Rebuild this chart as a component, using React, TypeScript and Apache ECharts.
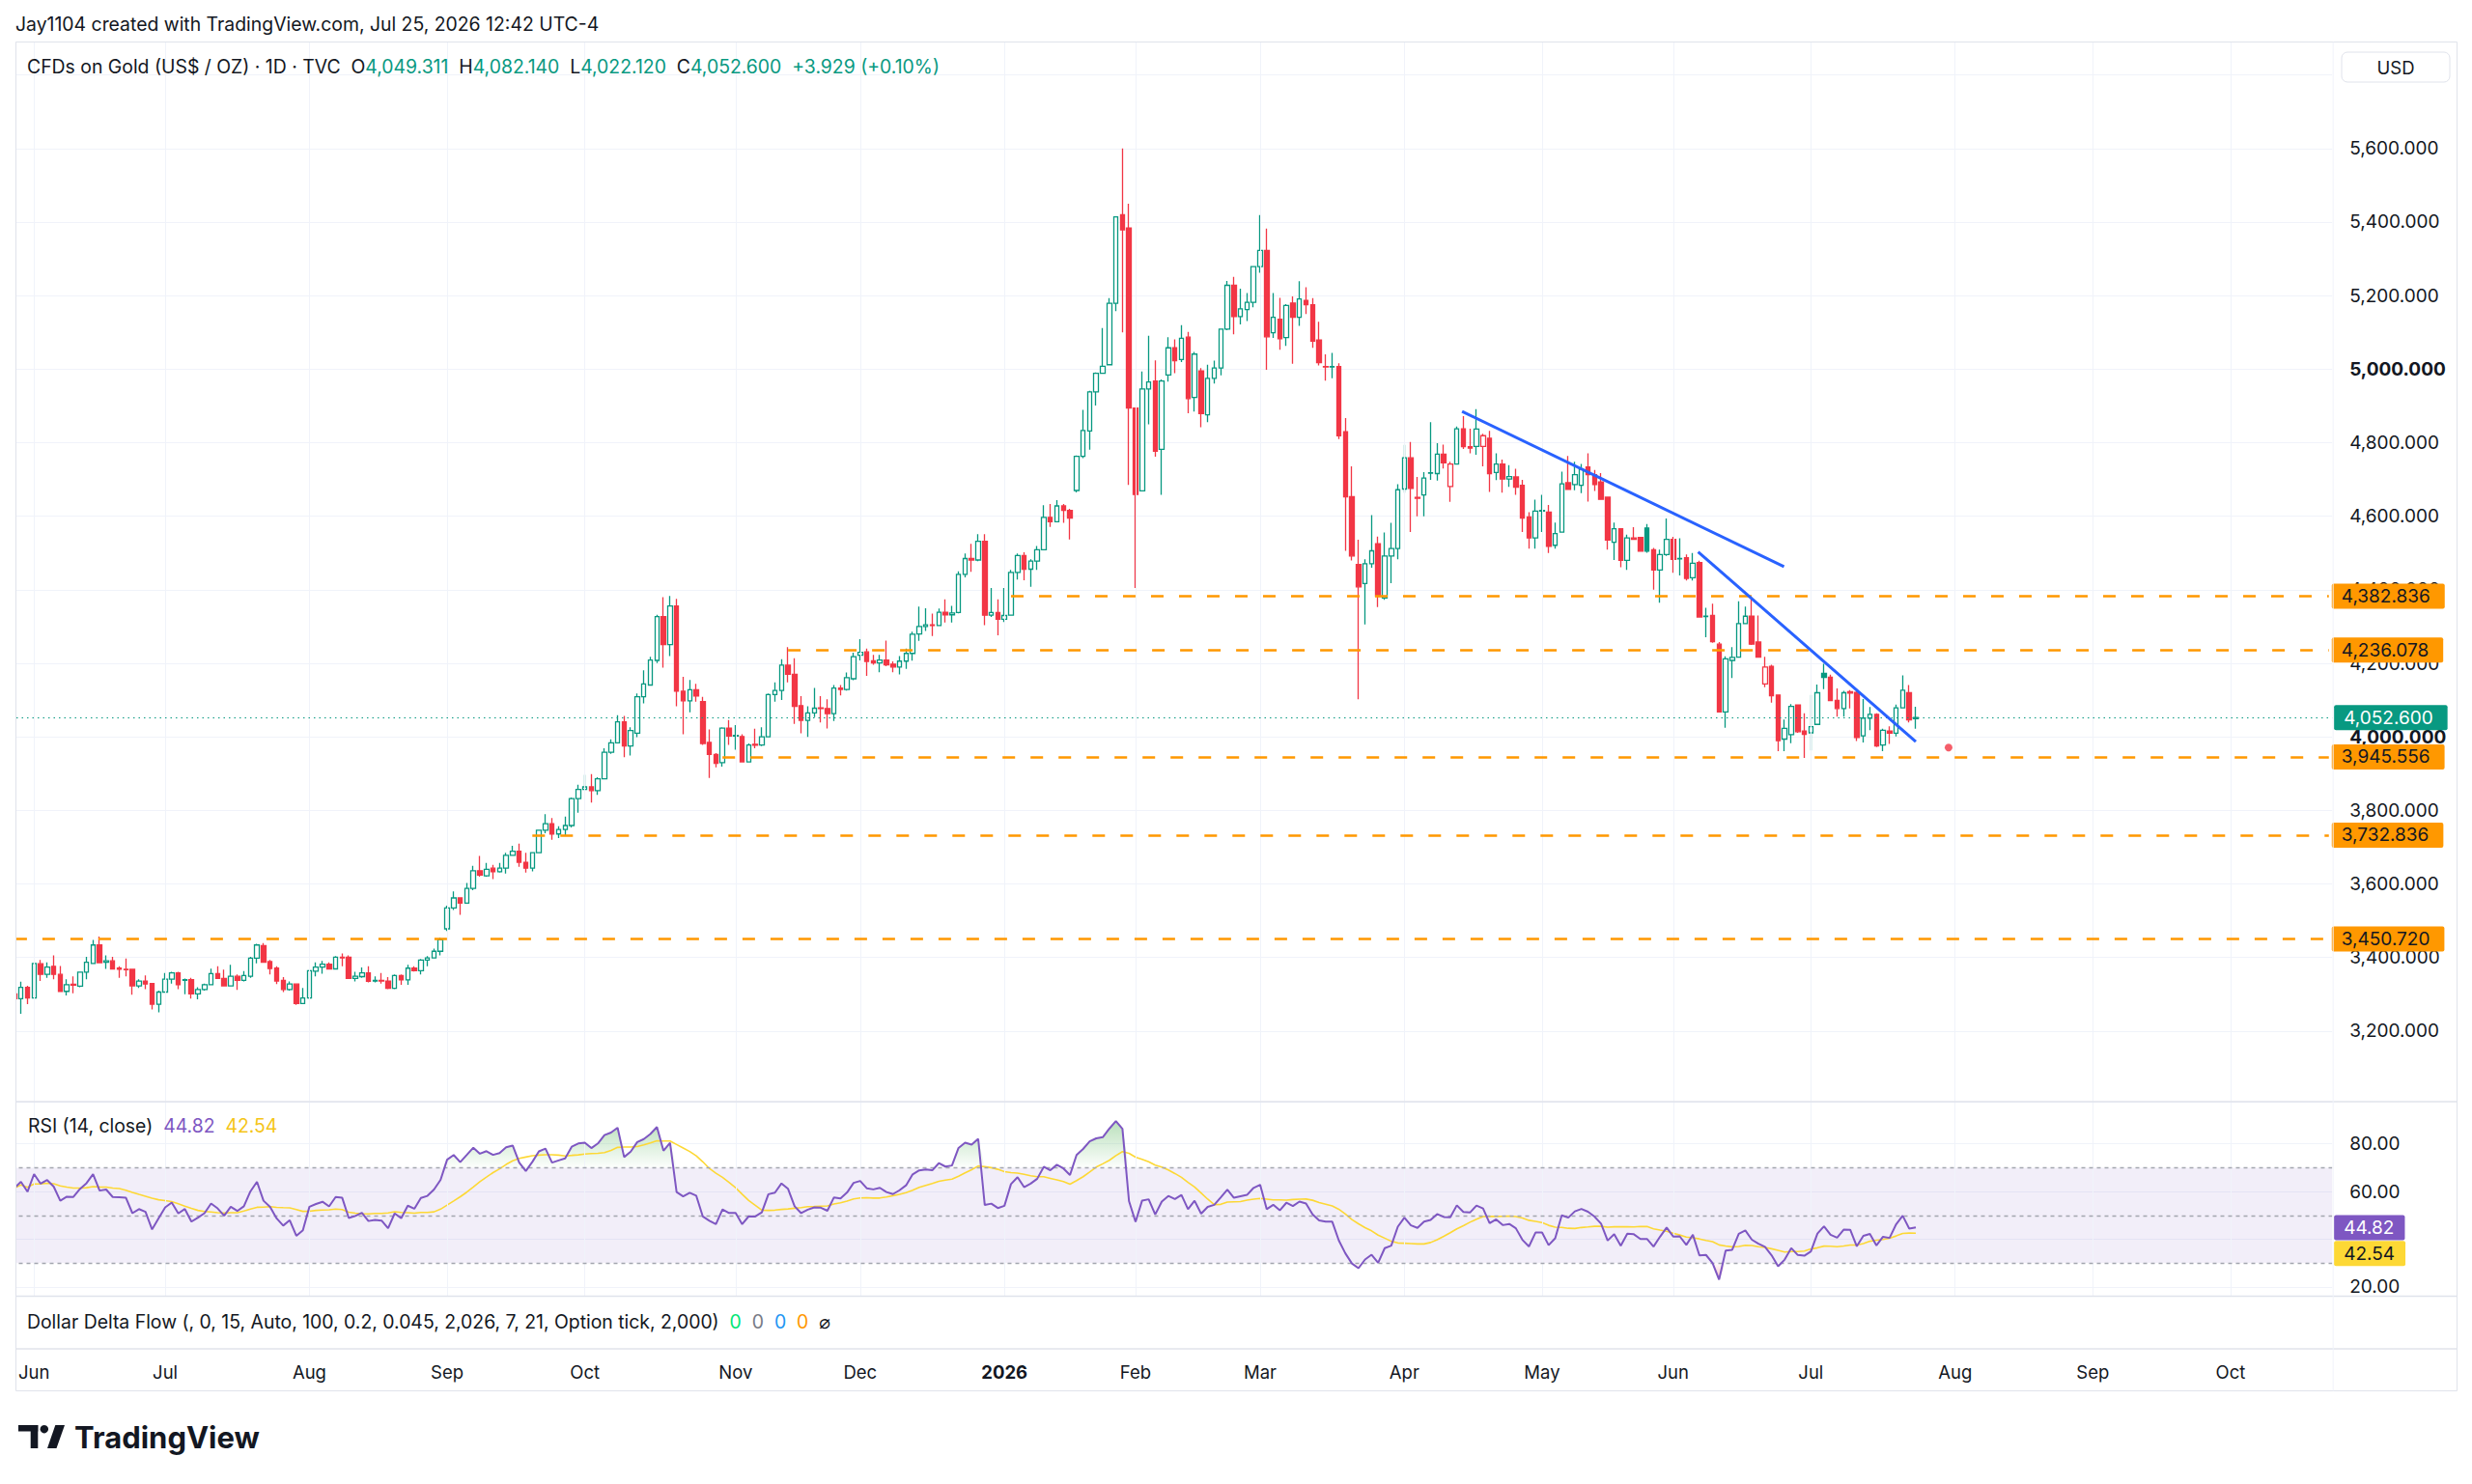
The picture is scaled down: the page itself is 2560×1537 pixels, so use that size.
import React, { useEffect, useRef } from 'react';
import * as echarts from 'echarts';

// ---------- DATA ----------
const FIRST_DAY = '2025-05-28';
const TOTAL_SLOTS = 354;
const HOLIDAYS = ['2025-06-19', '2025-07-04', '2025-09-01', '2025-11-27', '2025-12-25', '2026-01-01', '2026-01-19', '2026-02-16', '2026-04-03', '2026-05-25', '2026-06-19', '2026-07-03', '2026-09-07'];
const MONTHS = ['Jan', 'Feb', 'Mar', 'Apr', 'May', 'Jun', 'Jul', 'Aug', 'Sep', 'Oct', 'Nov', 'Dec'];

const OPEN = [
  3301, 3288, 3319, 3290, 3383, 3354, 3376, 3354, 3308, 3327,
  3322, 3360, 3384, 3434, 3387, 3391, 3371, 3368, 3368, 3323,
  3336, 3329, 3273, 3306, 3341, 3358, 3338, 3340, 3301, 3313,
  3326, 3356, 3343, 3323, 3349, 3338, 3349, 3398, 3432, 3389,
  3371, 3338, 3313, 3328, 3275, 3290, 3363, 3374, 3382, 3369,
  3401, 3401, 3343, 3348, 3358, 3336, 3338, 3336, 3316, 3351,
  3339, 3371, 3364, 3393, 3399, 3417, 3478, 3535, 3562, 3548,
  3588, 3636, 3622, 3643, 3633, 3643, 3678, 3689, 3659, 3643,
  3685, 3746, 3764, 3736, 3748, 3759, 3832, 3857, 3864, 3854,
  3886, 3958, 3984, 4041, 3975, 4010, 4109, 4141, 4208, 4327,
  4251, 4356, 4124, 4098, 4128, 4096, 3985, 3952, 3930, 4024,
  4004, 4001, 3932, 3980, 3978, 4000, 4115, 4126, 4195, 4170,
  4085, 4045, 4065, 4079, 4077, 4063, 4133, 4129, 4158, 4222,
  4231, 4207, 4201, 4209, 4198, 4190, 4206, 4227, 4280, 4300,
  4305, 4303, 4339, 4332, 4338, 4442, 4485, 4481, 4532, 4331,
  4338, 4320, 4331, 4447, 4493, 4456, 4478, 4509, 4597, 4585,
  4628, 4616, 4670, 4763, 4832, 4938, 4989, 5012, 5179, 5420,
  5384, 4894, 4669, 4946, 4968, 4782, 4984, 5058, 5026, 5087,
  4923, 4995, 4876, 4975, 5003, 5109, 5228, 5143, 5162, 5182,
  5279, 5323, 5099, 5136, 5086, 5180, 5141, 5187, 5175, 5079,
  5007, 5007, 5007, 4830, 4653, 4469, 4417, 4471, 4525, 4378,
  4492, 4512, 4674, 4759, 4651, 4658, 4717, 4716, 4769, 4681,
  4742, 4838, 4789, 4790, 4790, 4812, 4719, 4742, 4701, 4707,
  4684, 4598, 4541, 4616, 4611, 4521, 4557, 4691, 4686, 4684,
  4734, 4713, 4693, 4652, 4529, 4566, 4480, 4541, 4542, 4568,
  4509, 4454, 4496, 4537, 4485, 4487, 4433, 4474, 4327, 4330,
  4252, 4068, 4208, 4217, 4308, 4328, 4258, 4144, 4192, 4114,
  3994, 4006, 4087, 4016, 4011, 4034, 4173, 4162, 4099, 4077,
  4123, 4121, 4003, 4051, 4061, 3978, 4016, 4010, 4079, 4120,
  4049.311,
];
const HIGH = [
  3306, 3334, 3323, 3385, 3393, 3387, 3406, 3377, 3341, 3349,
  3362, 3402, 3448, 3457, 3406, 3402, 3376, 3397, 3369, 3341,
  3351, 3329, 3310, 3358, 3361, 3361, 3343, 3345, 3319, 3329,
  3370, 3376, 3367, 3380, 3354, 3363, 3402, 3437, 3439, 3393,
  3376, 3347, 3335, 3329, 3317, 3367, 3387, 3391, 3387, 3404,
  3411, 3406, 3361, 3373, 3376, 3349, 3358, 3347, 3354, 3354,
  3380, 3376, 3396, 3404, 3424, 3454, 3541, 3580, 3562, 3603,
  3649, 3676, 3657, 3652, 3657, 3685, 3704, 3710, 3685, 3687,
  3748, 3790, 3779, 3757, 3783, 3835, 3870, 3897, 3899, 3890,
  3969, 3993, 4059, 4057, 4026, 4118, 4181, 4218, 4332, 4380,
  4383, 4375, 4163, 4155, 4144, 4109, 4020, 3956, 4026, 4046,
  4032, 4007, 3982, 4022, 4026, 4118, 4148, 4211, 4244, 4214,
  4111, 4083, 4133, 4111, 4102, 4141, 4141, 4175, 4229, 4266,
  4240, 4223, 4223, 4262, 4205, 4220, 4240, 4286, 4354, 4350,
  4335, 4349, 4374, 4356, 4450, 4499, 4525, 4551, 4551, 4405,
  4374, 4405, 4454, 4499, 4502, 4483, 4519, 4630, 4633, 4644,
  4633, 4620, 4765, 4889, 4941, 4991, 5112, 5193, 5414, 5600,
  5450, 4894, 4994, 5091, 5024, 4972, 5087, 5081, 5120, 5101,
  5047, 5003, 5012, 5023, 5109, 5240, 5251, 5219, 5207, 5279,
  5419, 5382, 5207, 5194, 5177, 5198, 5239, 5223, 5193, 5129,
  5040, 5044, 5016, 4867, 4736, 4536, 4483, 4603, 4545, 4556,
  4582, 4687, 4794, 4802, 4707, 4720, 4856, 4799, 4795, 4748,
  4844, 4872, 4838, 4891, 4824, 4832, 4771, 4754, 4739, 4729,
  4699, 4611, 4645, 4658, 4631, 4583, 4721, 4764, 4748, 4742,
  4771, 4726, 4717, 4652, 4583, 4566, 4550, 4570, 4542, 4579,
  4514, 4509, 4594, 4544, 4540, 4496, 4500, 4479, 4351, 4362,
  4258, 4219, 4244, 4369, 4354, 4380, 4330, 4218, 4196, 4114,
  4047, 4089, 4088, 4064, 4114, 4142, 4199, 4169, 4132, 4125,
  4127, 4125, 4103, 4081, 4064, 4022, 4029, 4088, 4167, 4141,
  4082.14,
];
const LOW = [
  3282, 3247, 3273, 3288, 3336, 3345, 3341, 3306, 3297, 3303,
  3319, 3341, 3384, 3384, 3369, 3367, 3345, 3349, 3299, 3317,
  3314, 3259, 3251, 3304, 3329, 3314, 3300, 3288, 3286, 3310,
  3326, 3343, 3323, 3323, 3312, 3335, 3345, 3384, 3387, 3354,
  3328, 3306, 3310, 3271, 3275, 3287, 3349, 3356, 3367, 3368,
  3376, 3343, 3335, 3345, 3332, 3332, 3329, 3314, 3314, 3326,
  3326, 3362, 3354, 3376, 3398, 3406, 3472, 3529, 3516, 3546,
  3583, 3620, 3620, 3613, 3631, 3628, 3678, 3647, 3631, 3634,
  3684, 3738, 3720, 3725, 3733, 3754, 3794, 3855, 3821, 3842,
  3884, 3954, 3982, 3945, 3949, 3999, 4091, 4139, 4201, 4188,
  4220, 4083, 4007, 4067, 4096, 3978, 3888, 3917, 3919, 3978,
  3965, 3930, 3930, 3969, 3975, 3999, 4096, 4100, 4148, 4035,
  4010, 4000, 4054, 4039, 4023, 4043, 4113, 4126, 4154, 4208,
  4166, 4196, 4176, 4192, 4176, 4170, 4185, 4207, 4261, 4288,
  4274, 4302, 4311, 4311, 4336, 4434, 4449, 4478, 4304, 4326,
  4276, 4312, 4330, 4428, 4426, 4408, 4454, 4507, 4571, 4585,
  4582, 4537, 4665, 4758, 4781, 4901, 4989, 5010, 5158, 5100,
  4685, 4405, 4669, 4850, 4762, 4658, 4966, 4989, 5019, 4880,
  4885, 4842, 4856, 4961, 4983, 5106, 5095, 5122, 5131, 5168,
  5262, 4998, 5085, 5053, 5063, 5015, 5118, 5150, 5058, 5010,
  4969, 4975, 4810, 4506, 4480, 4102, 4306, 4460, 4353, 4373,
  4418, 4483, 4664, 4557, 4600, 4600, 4699, 4697, 4730, 4639,
  4741, 4783, 4771, 4767, 4736, 4666, 4698, 4664, 4680, 4658,
  4557, 4512, 4512, 4557, 4500, 4512, 4555, 4673, 4671, 4663,
  4640, 4669, 4645, 4509, 4481, 4461, 4454, 4537, 4505, 4501,
  4400, 4365, 4492, 4446, 4439, 4425, 4425, 4326, 4271, 4256,
  4066, 4025, 4160, 4217, 4307, 4250, 4217, 4135, 4093, 3961,
  3961, 3983, 4011, 3943, 3963, 4032, 4130, 4097, 4055, 4055,
  4077, 3989, 3985, 4018, 3972, 3961, 3981, 4001, 4077, 4039,
  4022.12,
];
const CLOSE = [
  3288, 3319, 3290, 3384, 3354, 3374, 3354, 3308, 3326, 3325,
  3360, 3387, 3434, 3386, 3391, 3369, 3368, 3367, 3323, 3336,
  3328, 3273, 3306, 3341, 3358, 3326, 3340, 3301, 3313, 3326,
  3356, 3343, 3323, 3349, 3338, 3351, 3398, 3434, 3387, 3370,
  3336, 3313, 3328, 3275, 3290, 3364, 3374, 3382, 3369, 3401,
  3399, 3343, 3349, 3358, 3335, 3338, 3336, 3316, 3351, 3339,
  3371, 3364, 3393, 3399, 3417, 3448, 3535, 3562, 3548, 3588,
  3636, 3624, 3640, 3633, 3643, 3678, 3689, 3659, 3643, 3685,
  3746, 3764, 3736, 3748, 3759, 3832, 3857, 3864, 3854, 3886,
  3958, 3984, 4041, 3975, 4017, 4109, 4144, 4209, 4327, 4251,
  4356, 4124, 4098, 4128, 4111, 3982, 3952, 3928, 4024, 4002,
  4002, 3932, 3978, 3977, 4000, 4115, 4126, 4195, 4170, 4083,
  4045, 4065, 4078, 4077, 4063, 4133, 4129, 4161, 4218, 4230,
  4205, 4201, 4209, 4196, 4190, 4206, 4227, 4279, 4300, 4305,
  4303, 4339, 4332, 4337, 4442, 4485, 4481, 4532, 4331, 4338,
  4320, 4330, 4447, 4493, 4456, 4478, 4509, 4597, 4585, 4628,
  4616, 4595, 4763, 4833, 4938, 4989, 5008, 5179, 5414, 5379,
  4894, 4659, 4946, 4965, 4777, 4968, 5058, 5023, 5084, 4920,
  5041, 4879, 4975, 5003, 5109, 5228, 5143, 5164, 5182, 5279,
  5323, 5088, 5141, 5083, 5173, 5141, 5191, 5175, 5076, 5018,
  5006, 5006, 4819, 4653, 4492, 4408, 4471, 4506, 4382, 4492,
  4512, 4672, 4759, 4676, 4649, 4704, 4718, 4769, 4745, 4742,
  4838, 4789, 4785, 4837, 4819, 4716, 4742, 4701, 4708, 4679,
  4595, 4541, 4614, 4614, 4518, 4553, 4688, 4673, 4713, 4728,
  4713, 4686, 4646, 4535, 4566, 4480, 4541, 4537, 4505, 4505,
  4454, 4496, 4537, 4483, 4484, 4431, 4472, 4326, 4328, 4259,
  4068, 4212, 4216, 4308, 4328, 4252, 4217, 4190, 4112, 3990,
  4023, 4083, 4014, 4007, 4028, 4120, 4162, 4099, 4077, 4120,
  4119, 3998, 4051, 4061, 3975, 4018, 4010, 4079, 4127, 4046,
  4052.6,
];

const LEVEL_VALUES = [4382.836, 4236.078, 3945.556, 3732.836, 3450.72];
const LEVEL_START = ['2026-01-05', '2025-11-13', '2025-10-30', '2025-09-19', '2025-05-28'];
const LAST_PRICE = 4052.6;
const TREND_A = [[220.8, 4885], [269.9, 4463]];
const TREND_B = [[256.8, 4503], [290.0, 3987]];
const DOT_DATE = '2026-07-31';
const DOT_VALUE = 3971;
const RSI_LAST = 44.82;
const RSI_MA_LAST = 42.54;
const LEGEND_OHLC = ['4,049.311', '4,082.140', '4,022.120', '4,052.600'];
const LEGEND_CHANGE = '+3.929 (+0.10%)';

// ---------- STYLE ----------
const UP = '#089981';
const DOWN = '#F23645';
const ORANGE = '#FF9800';
const BLUE = '#2962FF';
const PURPLE = '#7E57C2';
const YELLOW = '#FDD835';
const TEXT = '#131722';
const GRIDC = '#F0F3FA';
const BORDER = '#E0E3EB';
const FONT = "Inter, 'Noto Sans', 'DejaVu Sans', sans-serif";
const LF = 19.4; // legend font size

const PLOT_LEFT = 11.5;
const BAR = 6.79;
const PLOT_W = TOTAL_SLOTS * BAR;
const MAIN_TOP = 43;
const MAIN_H = 1098;
const RSI_TOP = 1141;
const RSI_H = 201;
const DDF_TOP = 1342.5;
const DDF_H = 54.5;

function buildDates(): string[] {
  const out: string[] = [];
  const [y, m, d] = FIRST_DAY.split('-').map(Number);
  const cur = new Date(Date.UTC(y, m - 1, d));
  while (out.length < TOTAL_SLOTS) {
    const wd = cur.getUTCDay();
    const s = cur.toISOString().slice(0, 10);
    if (wd !== 0 && wd !== 6 && HOLIDAYS.indexOf(s) < 0) out.push(s);
    cur.setUTCDate(cur.getUTCDate() + 1);
  }
  return out;
}

function computeRSI(cl: number[], n: number): number[] {
  const ch = cl.map((c, i) => (i === 0 ? 0 : c - cl[i - 1]));
  let ag = 0;
  let al = 0;
  for (let i = 1; i <= n; i++) {
    ag += Math.max(ch[i], 0);
    al += Math.max(-ch[i], 0);
  }
  ag /= n;
  al /= n;
  const out: number[] = [];
  out[0] = al === 0 ? 100 : 100 - 100 / (1 + ag / al);
  for (let i = 1; i < cl.length; i++) {
    ag = (ag * (n - 1) + Math.max(ch[i], 0)) / n;
    al = (al * (n - 1) + Math.max(-ch[i], 0)) / n;
    out[i] = al === 0 ? 100 : 100 - 100 / (1 + ag / al);
  }
  return out;
}

function sma(v: number[], n: number): number[] {
  return v.map((_, i) => {
    const s = Math.max(0, i - n + 1);
    const w = v.slice(s, i + 1);
    return w.reduce((a, b) => a + b, 0) / w.length;
  });
}

const fmt3 = (v: number) => v.toLocaleString('en-US', { minimumFractionDigits: 3, maximumFractionDigits: 3 });

function buildOption() {
  const DATES = buildDates();
  const isMonthStart = (i: number) => i > 0 && DATES[i].slice(0, 7) !== DATES[i - 1].slice(0, 7);
  const monthIdx = DATES.map((_, i) => i).filter(isMonthStart);
  const pad = (arr: (number | string)[]) => {
    const out = arr.slice();
    while (out.length < TOTAL_SLOTS) out.push('-');
    return out;
  };

  const candleData = CLOSE.map((c, i) => {
    const o = OPEN[i];
    const prev = i > 0 ? CLOSE[i - 1] : o;
    const col = c >= prev ? UP : DOWN;
    return {
      value: [o, c, LOW[i], HIGH[i]],
      itemStyle: { color: c > o ? '#ffffff' : col, color0: col, borderColor: col, borderColor0: col },
    };
  });

  const rsi = computeRSI(CLOSE, 14);
  const rsiMa = sma(rsi, 14);
  const r2 = (v: number) => Math.round(v * 100) / 100;

  const axisText = { color: TEXT, fontSize: 19, fontFamily: FONT };

  const baseX = (grid: number, showLabels: boolean) => ({
    type: 'category',
    gridIndex: grid,
    data: DATES,
    boundaryGap: true,
    axisLine: { show: false },
    axisTick: { show: false },
    splitLine: { show: false },
    axisLabel: showLabels
      ? {
          show: true,
          interval: (i: number) => isMonthStart(i),
          margin: 14,
          color: TEXT,
          fontSize: 18.5,
          fontFamily: FONT,
          formatter: (v: string) => {
            const m = Number(v.slice(5, 7));
            return m === 1 ? '{b|' + v.slice(0, 4) + '}' : MONTHS[m - 1];
          },
          rich: { b: { fontWeight: 'bold', fontSize: 18.5, fontFamily: FONT, color: TEXT } },
        }
      : { show: false },
  });

  const gridLineSeries = (xi: number, yi: number) => ({
    type: 'line',
    xAxisIndex: xi,
    yAxisIndex: yi,
    data: pad([]),
    z: 1,
    silent: true,
    symbol: 'none',
    markLine: {
      silent: true,
      symbol: ['none', 'none'],
      label: { show: false },
      lineStyle: { color: GRIDC, width: 1, type: 'solid' },
      data: monthIdx.map((i) => ({ xAxis: DATES[i] })),
    },
  });

  const boxLabel = (text: string, bg: string, fg: string, extra: any = {}) => ({
    show: true,
    position: 'end',
    distance: 3,
    formatter: text,
    backgroundColor: bg,
    color: fg,
    padding: [4, 15, 3, 10],
    fontSize: 19,
    fontFamily: FONT,
    borderRadius: 2,
    ...extra,
  });

  const levelLines: any[] = LEVEL_VALUES.map((v, k) => [
    {
      coord: [LEVEL_START[k], v],
      lineStyle: { color: ORANGE, width: 2.5, type: [13, 16] },
      label: boxLabel(fmt3(v), ORANGE, TEXT),
    },
    { coord: [DATES[TOTAL_SLOTS - 1], v] },
  ]);
  levelLines.push({
    yAxis: LAST_PRICE,
    lineStyle: { color: UP, width: 1, type: [1.5, 4] },
    label: boxLabel(fmt3(LAST_PRICE), UP, '#ffffff', { distance: 2 }),
  });

  const hiddenLine = { opacity: 0, width: 0 };
  const clearLine = { color: 'rgba(0,0,0,0)', width: 1, type: 'solid' };

  return {
    animation: false,
    backgroundColor: '#ffffff',
    grid: [
      { left: PLOT_LEFT, top: MAIN_TOP, width: PLOT_W, height: MAIN_H },
      { left: PLOT_LEFT, top: RSI_TOP, width: PLOT_W, height: RSI_H },
      { left: PLOT_LEFT, top: DDF_TOP, width: PLOT_W, height: DDF_H },
    ],
    xAxis: [
      baseX(0, false),
      baseX(1, false),
      baseX(2, true),
      { type: 'value', gridIndex: 0, min: -0.5, max: TOTAL_SLOTS - 0.5, show: false, splitLine: { show: false } },
    ],
    yAxis: [
      {
        type: 'value',
        gridIndex: 0,
        position: 'right',
        min: 3008,
        max: 5891,
        splitNumber: 14,
        axisLine: { show: false },
        axisTick: { show: false },
        splitLine: { show: true, lineStyle: { color: GRIDC, width: 1 } },
        axisLabel: {
          ...axisText,
          margin: 18,
          showMinLabel: false,
          showMaxLabel: false,
          formatter: (v: number) => {
            if (Math.abs(v % 200) > 1e-6 || v > 5700 || v < 3100) return '';
            return v % 1000 === 0 ? '{b|' + fmt3(v) + '}' : fmt3(v);
          },
          rich: { b: { fontWeight: 'bold', fontSize: 19, fontFamily: FONT, color: TEXT } },
        },
      },
      {
        type: 'value',
        gridIndex: 1,
        position: 'right',
        min: 16.3,
        max: 97.7,
        splitNumber: 4,
        axisLine: { show: false },
        axisTick: { show: false },
        splitLine: { show: true, lineStyle: { color: GRIDC, width: 1 } },
        axisLabel: {
          ...axisText,
          margin: 18,
          showMinLabel: false,
          showMaxLabel: false,
          // 40.00 sits under the value boxes in the reference, so it is not drawn
          formatter: (v: number) => (Math.abs(v % 20) > 1e-6 || Math.abs(v - 40) < 1e-6 ? '' : v.toFixed(2)),
        },
      },
      { type: 'value', gridIndex: 2, show: false, splitLine: { show: false } },
    ],
    series: [
      gridLineSeries(0, 0),
      gridLineSeries(1, 1),
      {
        type: 'candlestick',
        xAxisIndex: 0,
        yAxisIndex: 0,
        data: candleData,
        barWidth: 5,
        z: 3,
        itemStyle: { borderWidth: 1.3 },
        markLine: { silent: true, symbol: ['none', 'none'], data: levelLines },
      },
      {
        type: 'scatter',
        xAxisIndex: 0,
        yAxisIndex: 0,
        symbolSize: 8,
        itemStyle: { color: DOWN },
        data: [[DOT_DATE, DOT_VALUE]],
        z: 4,
      },
      {
        type: 'line',
        xAxisIndex: 3,
        yAxisIndex: 0,
        data: TREND_A,
        symbol: 'none',
        z: 5,
        lineStyle: { color: BLUE, width: 3 },
      },
      {
        type: 'line',
        xAxisIndex: 3,
        yAxisIndex: 0,
        data: TREND_B,
        symbol: 'none',
        z: 5,
        lineStyle: { color: BLUE, width: 3 },
      },
      // overbought fill
      {
        type: 'line',
        xAxisIndex: 1,
        yAxisIndex: 1,
        stack: 'ob',
        symbol: 'none',
        z: 2,
        lineStyle: hiddenLine,
        data: pad(rsi.map(() => 70)),
      },
      {
        type: 'line',
        xAxisIndex: 1,
        yAxisIndex: 1,
        stack: 'ob',
        symbol: 'none',
        z: 2,
        lineStyle: hiddenLine,
        areaStyle: {
          color: new echarts.graphic.LinearGradient(0, 0, 0, 1, [
            { offset: 0, color: 'rgba(76,175,80,0.55)' },
            { offset: 1, color: 'rgba(76,175,80,0.02)' },
          ]),
        },
        data: pad(rsi.map((v) => Math.max(v - 70, 0))),
      },
      // oversold fill
      {
        type: 'line',
        xAxisIndex: 1,
        yAxisIndex: 1,
        stack: 'os',
        symbol: 'none',
        z: 2,
        lineStyle: hiddenLine,
        data: pad(rsi.map((v) => Math.min(v, 30))),
      },
      {
        type: 'line',
        xAxisIndex: 1,
        yAxisIndex: 1,
        stack: 'os',
        symbol: 'none',
        z: 2,
        lineStyle: hiddenLine,
        areaStyle: {
          color: new echarts.graphic.LinearGradient(0, 0, 0, 1, [
            { offset: 0, color: 'rgba(242,54,69,0.02)' },
            { offset: 1, color: 'rgba(242,54,69,0.45)' },
          ]),
        },
        data: pad(rsi.map((v) => 30 - Math.min(v, 30))),
      },
      {
        type: 'line',
        xAxisIndex: 1,
        yAxisIndex: 1,
        symbol: 'none',
        z: 4,
        lineStyle: { color: YELLOW, width: 1.6 },
        data: pad(rsiMa.map(r2)),
      },
      {
        type: 'line',
        xAxisIndex: 1,
        yAxisIndex: 1,
        symbol: 'none',
        z: 5,
        lineStyle: { color: PURPLE, width: 2 },
        data: pad(rsi.map(r2)),
        markArea: {
          silent: true,
          itemStyle: { color: 'rgba(126,87,194,0.1)' },
          data: [[{ yAxis: 30 }, { yAxis: 70 }]],
        },
        markLine: {
          silent: true,
          symbol: ['none', 'none'],
          label: { show: false },
          lineStyle: { color: '#A3A6AF', width: 1.3, type: [4, 4] },
          data: [{ yAxis: 70 }, { yAxis: 50 }, { yAxis: 30 }],
        },
      },
      // RSI value boxes on the scale
      {
        type: 'line',
        xAxisIndex: 1,
        yAxisIndex: 1,
        symbol: 'none',
        z: 6,
        silent: true,
        data: pad([]),
        markLine: {
          silent: true,
          symbol: ['none', 'none'],
          data: [
            { yAxis: RSI_LAST, lineStyle: clearLine, label: boxLabel(RSI_LAST.toFixed(2), PURPLE, '#ffffff', { distance: 2, padding: [4, 11, 3, 10] }) },
            { yAxis: RSI_MA_LAST, lineStyle: clearLine, label: boxLabel(RSI_MA_LAST.toFixed(2), YELLOW, TEXT, { distance: 2, offset: [0, 21], padding: [4, 11, 3, 10] }) },
          ],
        },
      },
    ],
    graphic: [
      // mask the partially visible first bar outside the pane
      { type: 'rect', z: 100, silent: true, shape: { x: 0, y: 40, width: 16, height: 1405 }, style: { fill: '#ffffff' } },
      // frame
      { type: 'rect', z: 101, silent: true, shape: { x: 16.5, y: 43.5, width: 2528, height: 1397 }, style: { fill: 'none', stroke: BORDER, lineWidth: 1 } },
      { type: 'line', z: 101, silent: true, shape: { x1: 16.5, y1: RSI_TOP, x2: 2544.5, y2: RSI_TOP }, style: { stroke: BORDER, lineWidth: 1.5 } },
      { type: 'line', z: 101, silent: true, shape: { x1: 16.5, y1: DDF_TOP, x2: 2544.5, y2: DDF_TOP }, style: { stroke: BORDER, lineWidth: 1.5 } },
      { type: 'line', z: 101, silent: true, shape: { x1: 16.5, y1: DDF_TOP + DDF_H, x2: 2544.5, y2: DDF_TOP + DDF_H }, style: { stroke: BORDER, lineWidth: 1.5 } },
      { type: 'line', z: 101, silent: true, shape: { x1: PLOT_LEFT + PLOT_W + 1, y1: 43.5, x2: PLOT_LEFT + PLOT_W + 1, y2: 1440.5 }, style: { stroke: GRIDC, lineWidth: 1 } },
      // header
      {
        type: 'text', z: 102, x: 16, y: 25,
        style: { text: 'Jay1104 created with TradingView.com, Jul 25, 2026 12:42 UTC-4', fill: TEXT, fontSize: LF, fontFamily: FONT, verticalAlign: 'middle' },
      },
      {
        type: 'text', z: 102, x: 28, y: 69,
        style: {
          text:
            '{t|CFDs on Gold (US$ / OZ) · 1D · TVC}  {t|O}{v|' + LEGEND_OHLC[0] + '}  {t|H}{v|' + LEGEND_OHLC[1] +
            '}  {t|L}{v|' + LEGEND_OHLC[2] + '}  {t|C}{v|' + LEGEND_OHLC[3] + '}  {v|' + LEGEND_CHANGE + '}',
          fontSize: LF, fontFamily: FONT, verticalAlign: 'middle', fill: TEXT,
          rich: {
            t: { fill: TEXT, color: TEXT, fontSize: LF, fontFamily: FONT },
            v: { fill: UP, color: UP, fontSize: LF, fontFamily: FONT },
          },
        },
      },
      // USD box
      { type: 'rect', z: 102, shape: { x: 2425, y: 54, width: 112, height: 31, r: 6 }, style: { fill: '#ffffff', stroke: BORDER, lineWidth: 1 } },
      { type: 'text', z: 103, x: 2481, y: 70, style: { text: 'USD', fill: TEXT, fontSize: 18.5, fontFamily: FONT, align: 'center', verticalAlign: 'middle' } },
      // RSI legend
      {
        type: 'text', z: 102, x: 29, y: 1166,
        style: {
          text: '{t|RSI (14, close)}  {p|' + RSI_LAST.toFixed(2) + '}  {y|' + RSI_MA_LAST.toFixed(2) + '}',
          fontSize: LF, fontFamily: FONT, verticalAlign: 'middle', fill: TEXT,
          rich: {
            t: { fill: TEXT, color: TEXT, fontSize: LF, fontFamily: FONT },
            p: { fill: PURPLE, color: PURPLE, fontSize: LF, fontFamily: FONT },
            y: { fill: '#F5C518', color: '#F5C518', fontSize: LF, fontFamily: FONT },
          },
        },
      },
      // Dollar Delta Flow legend
      {
        type: 'text', z: 102, x: 28, y: 1369,
        style: {
          text: '{t|Dollar Delta Flow (, 0, 15, Auto, 100, 0.2, 0.045, 2,026, 7, 21, Option tick, 2,000)}  {g|0}  {s|0}  {b|0}  {o|0}  {t|⌀}',
          fontSize: LF, fontFamily: FONT, verticalAlign: 'middle', fill: TEXT,
          rich: {
            t: { fill: TEXT, color: TEXT, fontSize: LF, fontFamily: FONT },
            g: { fill: '#00E676', color: '#00E676', fontSize: LF, fontFamily: FONT },
            s: { fill: '#787B86', color: '#787B86', fontSize: LF, fontFamily: FONT },
            b: { fill: '#2196F3', color: '#2196F3', fontSize: LF, fontFamily: FONT },
            o: { fill: ORANGE, color: ORANGE, fontSize: LF, fontFamily: FONT },
          },
        },
      },
      // TradingView logo
      { type: 'rect', z: 102, shape: { x: 19, y: 1476, width: 20.3, height: 6.5 }, style: { fill: TEXT } },
      { type: 'rect', z: 102, shape: { x: 31.7, y: 1476, width: 7.6, height: 24 }, style: { fill: TEXT } },
      { type: 'circle', z: 102, shape: { cx: 45.8, cy: 1480.2, r: 4.2 }, style: { fill: TEXT } },
      { type: 'polygon', z: 102, shape: { points: [[57.3, 1476], [67, 1476], [58.5, 1500], [49, 1500]] }, style: { fill: TEXT } },
      {
        type: 'text', z: 102, x: 77, y: 1488,
        style: { text: 'TradingView', fill: TEXT, fontSize: 31, fontWeight: 'bold', fontFamily: FONT, verticalAlign: 'middle' },
      },
    ],
  };
}

export default function App() {
  const ref = useRef<HTMLDivElement>(null);
  useEffect(() => {
    if (!ref.current) return;
    const chart = echarts.init(ref.current, null, { renderer: 'svg' });
    chart.setOption(buildOption() as any);
    return () => chart.dispose();
  }, []);
  return (
    <div
      ref={ref}
      style={{ position: 'absolute', left: 0, top: 0, width: 2560, height: 1537, background: '#ffffff' }}
    />
  );
}
